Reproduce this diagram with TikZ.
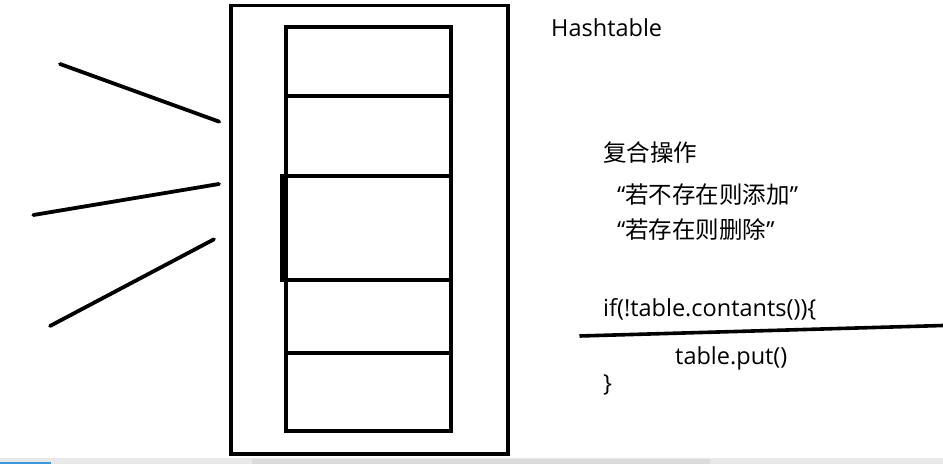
\documentclass[tikz,border=0pt]{standalone}
\usepackage{fontspec}
\setmainfont{Open Sans}
\newfontfamily\cjk{Noto Sans CJK SC}
\begin{document}
\begin{tikzpicture}[x=1pt,y=-1pt,
  box/.style={draw=black,line width=3.6pt},
  stroke/.style={draw=black,line width=3.8pt,line cap=round},
  lat/.style={anchor=base west,inner sep=0pt,font=\fontsize{23.5}{26}\selectfont},
  zh/.style={anchor=base west,inner sep=0pt,font=\fontsize{23.5}{26}\selectfont}]
\useasboundingbox (0,0) rectangle (943,464);
\fill[white] (0,0) rectangle (943,464);
% scrollbar strip at the bottom
\fill[gray!18] (0,458) rectangle (943,464);
\fill[gray!28] (252,459) rectangle (710,464);
\fill[cyan!70!blue!80] (0,462) rectangle (51,464);
% outer box
\draw[box] (231,5.5) rectangle (507.7,454);
% table column
\draw[box,line width=4pt] (285.5,27) rectangle (450.5,431.3);
\draw[box,line width=4pt] (285.5,96.3) -- (450.5,96.3);
\draw[box,line width=4pt] (285.5,176) -- (450.5,176);
\draw[box,line width=4pt] (285.5,280) -- (450.5,280);
\draw[box,line width=4pt] (285.5,352.7) -- (450.5,352.7);
\fill[black] (279.7,174) rectangle (287.5,282);
% threads
\draw[stroke] (60,64) -- (219.3,121.7);
\draw[stroke] (33.3,215) -- (219,184);
\draw[stroke] (50,326) -- (214,239.3);
% texts
\node[lat] (title) at (551,36) {Hashtable};
\node[zh] (op) at (603,161) {\cjk 复合操作};
\node[zh] (op1) at (617,203) {“\cjk 若不存在则添加\normalfont”};
\node[zh] (op2) at (617,238) {“\cjk 若存在则删除\normalfont”};
\node[lat] (code1) at (603,316) {if(!table.contants())\{};
\node[lat] (code2) at (675,364) {table.put()};
\node[lat] (code3) at (603,391) {\}};
% strike line
\coordinate (sl) at (579.5,336);
\coordinate (sr) at (943,325.5);
\draw[draw=black,line width=3.6pt] (sl) -- (sr);
\end{tikzpicture}
\end{document}
